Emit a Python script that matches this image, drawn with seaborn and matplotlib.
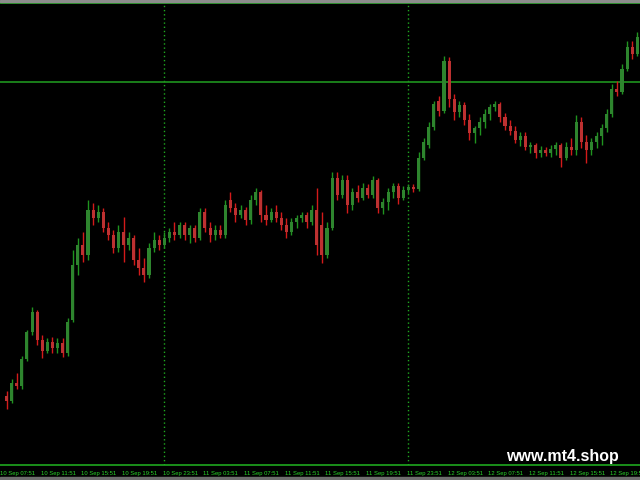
import matplotlib
matplotlib.use("Agg")
import matplotlib.pyplot as plt
import seaborn as sns
import numpy as np

# 30-minute candles, time in hours since 10 Sep 00:00, prices in points
times = [8.5 + 0.5 * i for i in range(125)]
opens = [105, 100, 118, 115, 142, 168, 188, 160, 150, 158, 152, 157, 148, 180, 235, 255, 245, 290, 282, 288,
         272, 265, 252, 268, 255, 262, 240, 232, 225, 252, 260, 255, 262, 268, 265, 275, 265, 272, 262, 288,
         272, 265, 270, 265, 300, 292, 285, 290, 280, 300, 308, 285, 280, 288, 282, 275, 268, 278, 282, 285,
         278, 290, 275, 245, 272, 322, 305, 320, 295, 308, 302, 312, 305, 320, 292, 298, 308, 314, 302, 310,
         313, 311, 342, 355, 373, 398, 388, 438, 400, 387, 394, 380, 367, 372, 378, 385, 392, 395, 382, 374,
         369, 360, 364, 353, 355, 347, 350, 347, 351, 355, 342, 353, 350, 378, 358, 350, 358, 364, 372, 385,
         410, 407, 430, 452, 445]
highs = [110, 122, 128, 145, 170, 193, 190, 165, 162, 163, 162, 162, 182, 250, 262, 268, 300, 297, 295, 292,
         278, 270, 275, 283, 268, 265, 252, 242, 257, 268, 265, 268, 272, 278, 278, 278, 275, 275, 292, 292,
         278, 275, 275, 300, 308, 297, 295, 293, 305, 312, 310, 295, 292, 295, 288, 282, 282, 285, 288, 288,
         295, 312, 288, 278, 328, 328, 325, 325, 312, 315, 317, 316, 324, 322, 302, 312, 317, 317, 314, 316,
         316, 348, 362, 378, 398, 403, 443, 442, 405, 398, 397, 385, 374, 382, 390, 395, 398, 397, 386, 380,
         374, 368, 368, 358, 357, 354, 353, 355, 358, 357, 358, 362, 384, 382, 365, 362, 368, 376, 390, 415,
         418, 435, 458, 458, 467]
lows = [92, 98, 112, 112, 140, 165, 155, 143, 148, 148, 148, 144, 145, 178, 225, 238, 240, 275, 278, 268,
        260, 247, 248, 238, 250, 235, 225, 218, 222, 248, 250, 252, 258, 260, 262, 260, 257, 258, 260, 268,
        258, 260, 262, 262, 288, 278, 282, 275, 276, 295, 278, 275, 278, 278, 270, 262, 265, 272, 278, 272,
        275, 245, 237, 242, 270, 300, 302, 287, 290, 298, 300, 302, 302, 287, 286, 290, 302, 296, 300, 307,
        308, 309, 340, 352, 370, 383, 386, 392, 380, 382, 375, 360, 357, 365, 372, 380, 388, 378, 370, 365,
        357, 354, 350, 347, 342, 343, 344, 343, 345, 333, 340, 345, 345, 352, 337, 345, 352, 355, 368, 382,
        403, 405, 428, 440, 443]
closes = [100, 118, 115, 142, 168, 188, 160, 150, 158, 152, 157, 148, 178, 235, 255, 245, 290, 282, 288, 272,
          265, 252, 268, 255, 262, 240, 232, 225, 252, 260, 255, 262, 268, 265, 275, 265, 272, 262, 288, 272,
          265, 270, 265, 295, 292, 285, 290, 280, 300, 308, 285, 280, 288, 282, 275, 268, 278, 282, 285, 278,
          290, 255, 245, 272, 322, 305, 320, 295, 308, 302, 312, 305, 320, 292, 298, 308, 314, 302, 310, 313,
          311, 342, 358, 373, 395, 388, 438, 400, 387, 394, 380, 367, 372, 378, 385, 392, 395, 382, 374, 369,
          360, 364, 353, 355, 347, 350, 347, 351, 355, 342, 353, 350, 378, 358, 350, 358, 364, 372, 385, 410,
          407, 430, 452, 445, 462]

tick_hours = [7.85 + 4 * k for k in range(16)]
tick_labels = ["10 Sep 07:51", "10 Sep 11:51", "10 Sep 15:51", "10 Sep 19:51", "10 Sep 23:51",
               "11 Sep 03:51", "11 Sep 07:51", "11 Sep 11:51", "11 Sep 15:51", "11 Sep 19:51",
               "11 Sep 23:51", "12 Sep 03:51", "12 Sep 07:51", "12 Sep 11:51", "12 Sep 15:51",
               "12 Sep 19:51"]
day_breaks = [24, 48]
level = 417

GREEN = "#1f941f"
RED = "#d41a1a"
LINE = "#1fa81f"
TEXT = "#2ad42a"

sns.set_theme(style="dark", rc={"axes.facecolor": "black", "figure.facecolor": "black"})
plt.rcParams["font.family"] = ["Liberation Sans", "DejaVu Sans"]

t = np.array(times)
o = np.array(opens)
h = np.array(highs)
lo = np.array(lows)
c = np.array(closes)
up = c >= o

fig = plt.figure(figsize=(6.4, 4.8), dpi=100)
ax = fig.add_axes([0, 15 / 480, 1, 462 / 480])

# wicks
ax.vlines(t, lo, h, colors=np.where(up, GREEN, RED), linewidth=1, zorder=2)

# bodies
for mask, col in [(up, GREEN), (~up, RED)]:
    bottom = np.minimum(o, c)[mask]
    height = np.abs(c - o)[mask]
    sns.barplot(x=t[mask], y=height, bottom=bottom, native_scale=True, color=col,
                width=0.6, linewidth=0, errorbar=None, ax=ax, zorder=3)

for d in day_breaks:
    ax.axvline(d, color=LINE, linestyle=(0, (1, 2)), linewidth=1, zorder=1)
ax.axhline(level, color=GREEN, linewidth=1.2, zorder=1)

ax.set_xlim(8.45, 70.77)
ax.set_ylim(36, 496)
ax.set_xticks(tick_hours)
ax.set_xticklabels([])
ax.tick_params(axis="x", direction="out", length=2, width=0.8, color=LINE)
# time labels start at their tick, the first one runs off the left edge
for th, lab in zip(tick_hours, tick_labels):
    ax.text(th, -0.012, lab, transform=ax.get_xaxis_transform(), ha="left", va="top",
            color=TEXT, fontsize=4.2, clip_on=False)
ax.set_yticks([])
ax.set_xlabel("")
ax.set_ylabel("")
ax.grid(False)
for side in ["left", "right"]:
    ax.spines[side].set_visible(False)
for side in ["top", "bottom"]:
    ax.spines[side].set_visible(True)
    ax.spines[side].set_color(LINE)
    ax.spines[side].set_linewidth(1.2)

# grey frame strips at the very top and bottom
fig.patches.append(plt.Rectangle((0, 478 / 480), 1, 2 / 480, transform=fig.transFigure,
                                 color="#8c8c8c", zorder=0))
fig.patches.append(plt.Rectangle((0, 0), 1, 3 / 480, transform=fig.transFigure,
                                 color="#6e6e6e", zorder=0))

fig.text(562 / 640, 1 - 456 / 480, "www.mt4.shop", color="white", fontsize=11.5,
         fontweight="bold", ha="center", va="center")

fig.savefig("out.png", dpi=100, facecolor="black")
